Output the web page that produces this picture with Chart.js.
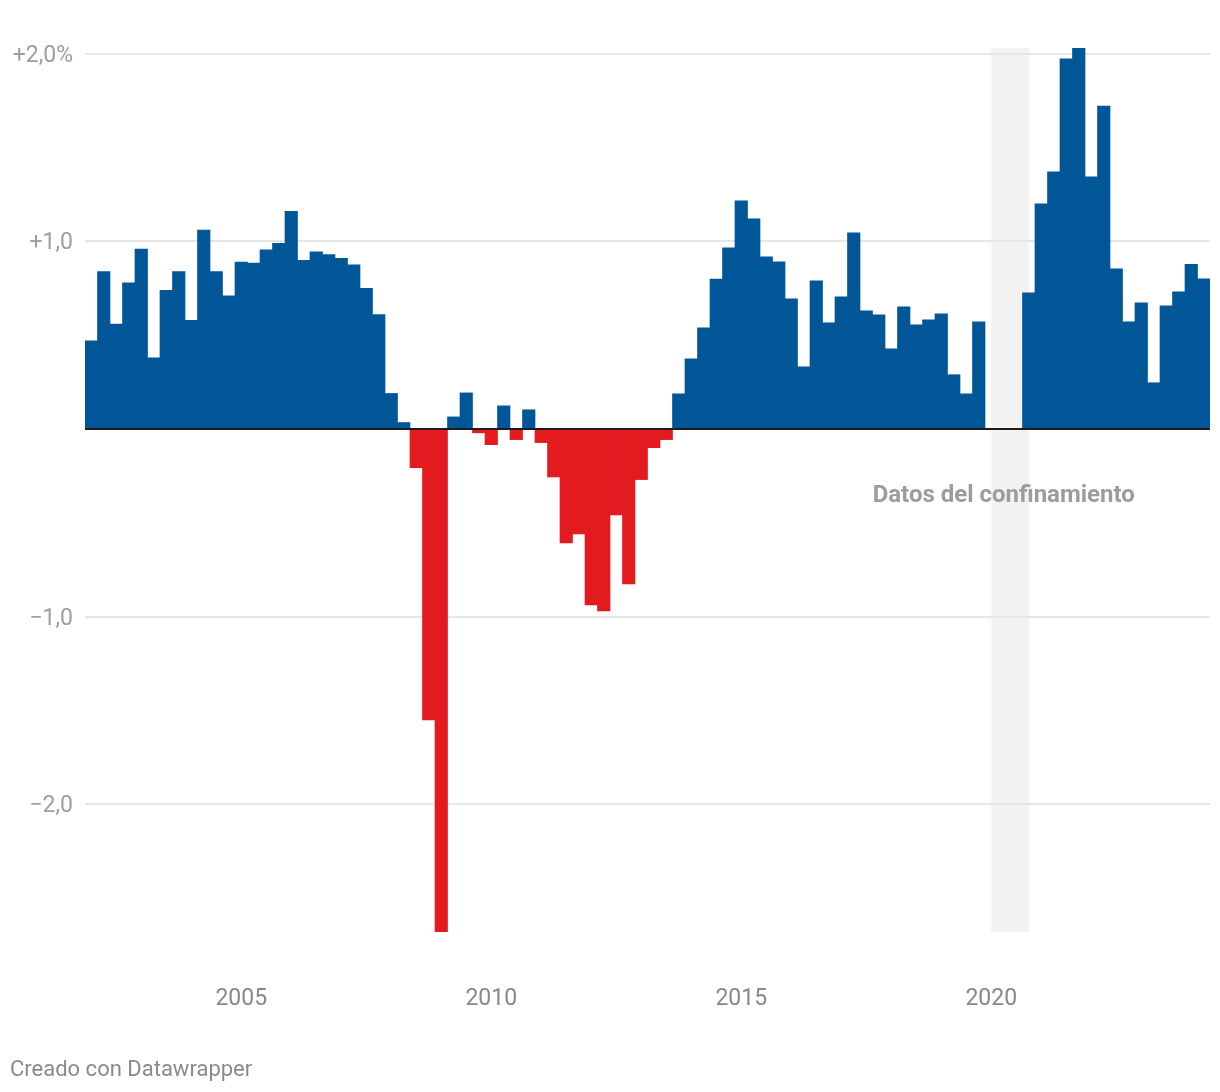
<!DOCTYPE html>
<html>
<head>
<meta charset="utf-8">
<script src="https://cdn.jsdelivr.net/npm/chart.js@4.4.1/dist/chart.umd.min.js"></script>
<style>
  html, body { margin: 0; padding: 0; background: #fff; }
  #wrap { position: relative; width: 1220px; height: 1092px; }
  #credit { position: absolute; left: 10px; top: 1056px; font: 22px Roboto, sans-serif; color: #8a8a8a; }
</style>
</head>
<body>
<div id="wrap">
  <canvas id="popChart" width="1220" height="1092"></canvas>
  <div id="credit">Creado con Datawrapper</div>
</div>
<script>
// quarterly variation, 2002 T1 .. 2024 T2
var years = [2002,2003,2004,2005,2006,2007,2008,2009,2010,2011,2012,2013,2014,2015,2016,2017,2018,2019,2020,2021,2022,2023,2024];
var quarters = ['T1','T2','T3','T4'];
var values = [
  0.47, 0.84, 0.56, 0.78,   // 2002
  0.96, 0.38, 0.74, 0.84,   // 2003
  0.58, 1.06, 0.84, 0.71,   // 2004
  0.89, 0.885, 0.955, 0.99, // 2005
  1.16, 0.90, 0.945, 0.93,  // 2006
  0.91, 0.875, 0.75, 0.61,  // 2007
  0.19, 0.035, -0.206, -1.55, // 2008
  -2.68, 0.065, 0.193, -0.02, // 2009
  -0.083, 0.124, -0.056, 0.103, // 2010
  -0.072, -0.255, -0.606, -0.558, // 2011
  -0.937, -0.969, -0.457, -0.825, // 2012
  -0.269, -0.099, -0.056, 0.188,  // 2013
  0.375, 0.54, 0.80, 0.966,  // 2014
  1.216, 1.12, 0.918, 0.891, // 2015
  0.694, 0.332, 0.79, 0.566, // 2016
  0.705, 1.046, 0.63, 0.609, // 2017
  0.428, 0.652, 0.556, 0.582, // 2018
  0.614, 0.29, 0.188, 0.572, // 2019
  null, null, null, 0.726,   // 2020
  1.20, 1.371, 1.973, 2.031, // 2021
  1.345, 1.722, 0.854, 0.572, // 2022
  0.673, 0.247, 0.657, 0.731, // 2023
  0.878, 0.801               // 2024
];
var yTicks = [-2, -1, 1, 2];
var yRange = [-2.68, 2.031];
var lockdown = ['2020 T1', '2020 T4'];
var noteText = 'Datos del confinamiento';
var noteAt = ['2020 T2', -0.355];

var labels = [];
years.forEach(function (y) {
    quarters.forEach(function (q) {
        if (labels.length < values.length) labels.push(y + ' ' + q);
    });
});

var blue = '#015697';
var red = '#e31b1e';
var colors = values.map(function (v) { return v < 0 ? red : blue; });

var lockdownPlugin = {
    id: 'lockdown',
    beforeDraw: function (chart) {
        var ctx = chart.ctx, a = chart.chartArea, x = chart.scales.x;
        var x0 = x.getPixelForValue(labels.indexOf(lockdown[0]));
        var x1 = x.getPixelForValue(labels.indexOf(lockdown[1]));
        ctx.save();
        ctx.fillStyle = '#f2f2f2';
        ctx.fillRect(x0, a.top, x1 - x0, a.bottom - a.top);
        ctx.restore();
    },
    afterDatasetsDraw: function (chart) {
        var ctx = chart.ctx, a = chart.chartArea;
        var y0 = chart.scales.y.getPixelForValue(0);
        ctx.save();
        ctx.strokeStyle = '#1c1c1c';
        ctx.lineWidth = 2;
        ctx.beginPath();
        ctx.moveTo(a.left, y0);
        ctx.lineTo(a.right, y0);
        ctx.stroke();
        // annotation
        var nx = chart.scales.x.getPixelForValue(labels.indexOf(noteAt[0]));
        var ny = chart.scales.y.getPixelForValue(noteAt[1]);
        ctx.font = 'bold 24px Roboto';
        ctx.fillStyle = '#9c9c9c';
        ctx.textAlign = 'center';
        ctx.textBaseline = 'middle';
        ctx.fillText(noteText, nx, ny);
        ctx.restore();
    }
};

var popCanvas = document.getElementById('popChart');
var barChart = new Chart(popCanvas, {
    type: 'bar',
    data: {
        labels: labels,
        datasets: [{
            data: values,
            backgroundColor: colors,
            borderWidth: 0,
            barPercentage: 1,
            categoryPercentage: 1
        }]
    },
    options: {
        responsive: false,
        animation: false,
        events: [],
        layout: { padding: { top: 48, right: 10, left: 0, bottom: 0 } },
        plugins: { legend: { display: false }, tooltip: { enabled: false } },
        scales: {
            x: {
                grid: { display: false, drawTicks: false },
                border: { display: false },
                afterFit: function (s) {
                    s.height = 160;
                    s.paddingLeft = 0;
                    s.paddingRight = 0;
                },
                ticks: {
                    autoSkip: false,
                    maxRotation: 0,
                    padding: 53,
                    color: '#888888',
                    font: { family: 'Roboto', size: 23 },
                    callback: function (v, i) {
                        var l = labels[i];
                        var y = parseInt(l, 10);
                        return (l.indexOf('T1') > 0 && y % 5 === 0) ? String(y) : '';
                    }
                }
            },
            y: {
                min: yRange[0],
                max: yRange[1],
                afterFit: function (s) {
                    s.width = 85;
                    s.paddingTop = 0;
                    s.paddingBottom = 0;
                },
                afterBuildTicks: function (s) {
                    s.ticks = yTicks.map(function (v) { return { value: v }; });
                },
                grid: { color: '#e6e6e6', lineWidth: 2, drawTicks: false },
                border: { display: false },
                ticks: {
                    padding: 12,
                    labelOffset: 2,
                    color: '#9e9e9e',
                    font: { family: 'Roboto', size: 23 },
                    callback: function (v) {
                        var s = Math.abs(v).toFixed(1).replace('.', ',');
                        if (v > 0) return '+' + s + (v === yTicks[yTicks.length - 1] ? '%' : '');
                        return '\u2212' + s;
                    }
                }
            }
        }
    },
    plugins: [lockdownPlugin]
});
</script>
</body>
</html>
